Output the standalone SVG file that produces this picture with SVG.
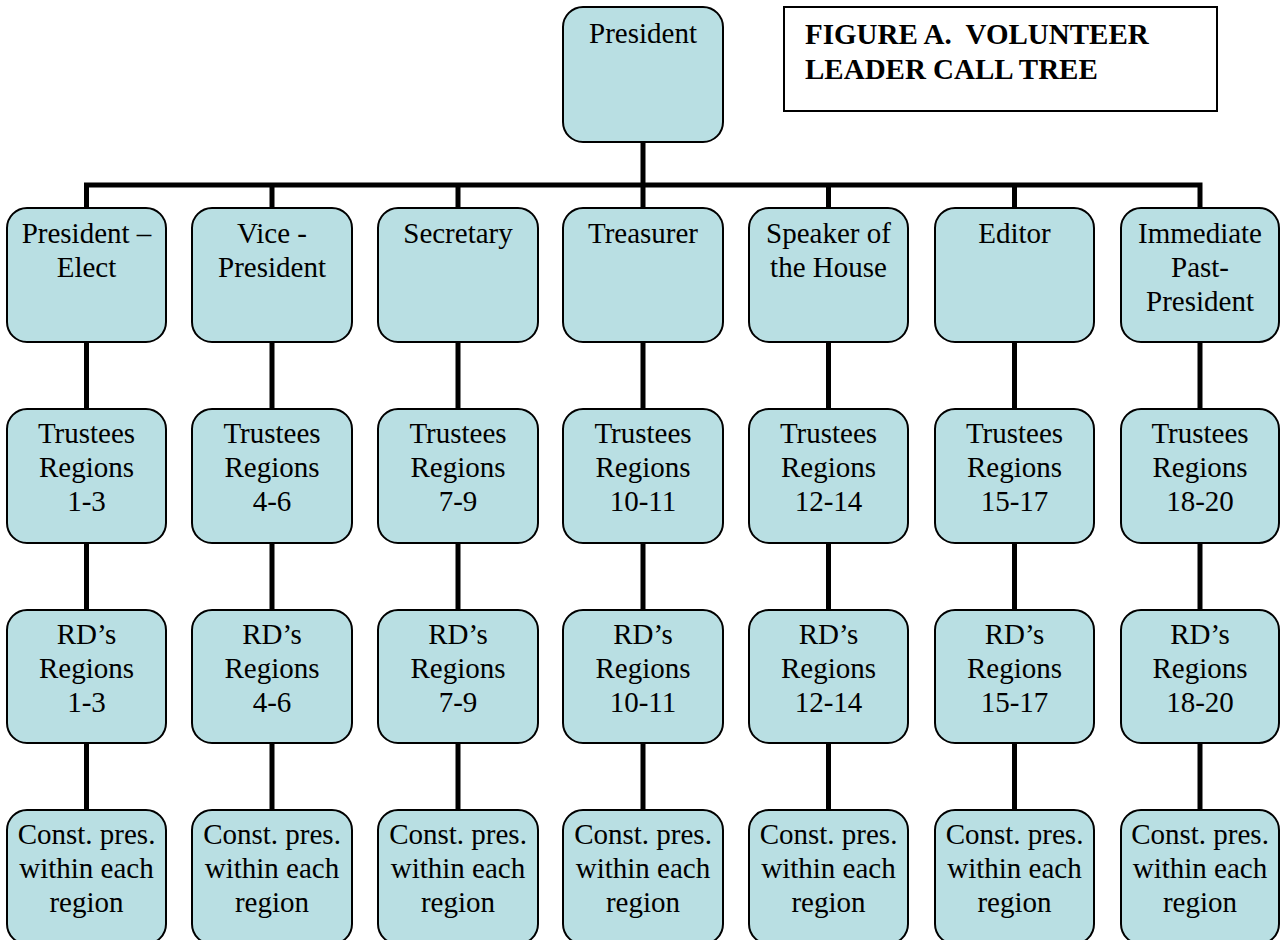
<svg xmlns="http://www.w3.org/2000/svg" width="1285" height="940" viewBox="0 0 1285 940">
<style>
.box{fill:#B9DFE3;stroke:#000;stroke-width:2}
.t{font-family:"Liberation Serif","Times New Roman",serif;font-size:29px;fill:#000;text-anchor:middle}
.title{font-family:"Liberation Serif","Times New Roman",serif;font-size:29px;font-weight:bold;fill:#000;white-space:pre}
.c{fill:none;stroke:#000;stroke-width:5;stroke-linejoin:miter}
</style>
<rect width="1285" height="940" fill="#fff"/>
<g id="connectors">
<path class="c" d="M643,142 V185"/>
<path class="c" d="M86.5,208 V185 H1200 V208"/>
<path class="c" d="M272,185 V208 M458,185 V208 M643,185 V208 M828.5,185 V208 M1014.5,185 V208"/>
<path class="c" d="M86.5,343 V409 M272,343 V409 M458,343 V409 M643,343 V409 M828.5,343 V409 M1014.5,343 V409 M1200,343 V409"/>
<path class="c" d="M86.5,543 V610 M272,543 V610 M458,543 V610 M643,543 V610 M828.5,543 V610 M1014.5,543 V610 M1200,543 V610"/>
<path class="c" d="M86.5,743 V810 M272,743 V810 M458,743 V810 M643,743 V810 M828.5,743 V810 M1014.5,743 V810 M1200,743 V810"/>
</g>
<g id="title">
<rect x="784" y="7" width="433" height="104" fill="#fff" stroke="#000" stroke-width="2"/>
<text class="title" x="805" y="44" xml:space="preserve">FIGURE A.  VOLUNTEER</text>
<text class="title" x="805" y="79">LEADER CALL TREE</text>
</g>
<g id="president"><rect class="box" x="563" y="7" width="160" height="135" rx="20"/><text class="t" x="643" y="43">President</text></g>

<g id="president-elect"><rect class="box" x="7" y="208" width="159" height="134" rx="20"/><text class="t" x="86.5" y="243">President –</text><text class="t" x="86.5" y="277">Elect</text></g>
<g id="vice-president"><rect class="box" x="192" y="208" width="160" height="134" rx="20"/><text class="t" x="272" y="243">Vice -</text><text class="t" x="272" y="277">President</text></g>
<g id="secretary"><rect class="box" x="378" y="208" width="160" height="134" rx="20"/><text class="t" x="458" y="243">Secretary</text></g>
<g id="treasurer"><rect class="box" x="563" y="208" width="160" height="134" rx="20"/><text class="t" x="643" y="243">Treasurer</text></g>
<g id="speaker"><rect class="box" x="749" y="208" width="159" height="134" rx="20"/><text class="t" x="828.5" y="243">Speaker of</text><text class="t" x="828.5" y="277">the House</text></g>
<g id="editor"><rect class="box" x="935" y="208" width="159" height="134" rx="20"/><text class="t" x="1014.5" y="243">Editor</text></g>
<g id="past-president"><rect class="box" x="1121" y="208" width="158" height="134" rx="20"/><text class="t" x="1200" y="243">Immediate</text><text class="t" x="1200" y="277">Past-</text><text class="t" x="1200" y="311">President</text></g>

<g id="trustees-1"><rect class="box" x="7" y="409" width="159" height="134" rx="20"/><text class="t" x="86.5" y="443">Trustees</text><text class="t" x="86.5" y="477">Regions</text><text class="t" x="86.5" y="511">1-3</text></g>
<g id="trustees-2"><rect class="box" x="192" y="409" width="160" height="134" rx="20"/><text class="t" x="272" y="443">Trustees</text><text class="t" x="272" y="477">Regions</text><text class="t" x="272" y="511">4-6</text></g>
<g id="trustees-3"><rect class="box" x="378" y="409" width="160" height="134" rx="20"/><text class="t" x="458" y="443">Trustees</text><text class="t" x="458" y="477">Regions</text><text class="t" x="458" y="511">7-9</text></g>
<g id="trustees-4"><rect class="box" x="563" y="409" width="160" height="134" rx="20"/><text class="t" x="643" y="443">Trustees</text><text class="t" x="643" y="477">Regions</text><text class="t" x="643" y="511">10-11</text></g>
<g id="trustees-5"><rect class="box" x="749" y="409" width="159" height="134" rx="20"/><text class="t" x="828.5" y="443">Trustees</text><text class="t" x="828.5" y="477">Regions</text><text class="t" x="828.5" y="511">12-14</text></g>
<g id="trustees-6"><rect class="box" x="935" y="409" width="159" height="134" rx="20"/><text class="t" x="1014.5" y="443">Trustees</text><text class="t" x="1014.5" y="477">Regions</text><text class="t" x="1014.5" y="511">15-17</text></g>
<g id="trustees-7"><rect class="box" x="1121" y="409" width="158" height="134" rx="20"/><text class="t" x="1200" y="443">Trustees</text><text class="t" x="1200" y="477">Regions</text><text class="t" x="1200" y="511">18-20</text></g>

<g id="rd-1"><rect class="box" x="7" y="610" width="159" height="133" rx="20"/><text class="t" x="86.5" y="644">RD’s</text><text class="t" x="86.5" y="678">Regions</text><text class="t" x="86.5" y="712">1-3</text></g>
<g id="rd-2"><rect class="box" x="192" y="610" width="160" height="133" rx="20"/><text class="t" x="272" y="644">RD’s</text><text class="t" x="272" y="678">Regions</text><text class="t" x="272" y="712">4-6</text></g>
<g id="rd-3"><rect class="box" x="378" y="610" width="160" height="133" rx="20"/><text class="t" x="458" y="644">RD’s</text><text class="t" x="458" y="678">Regions</text><text class="t" x="458" y="712">7-9</text></g>
<g id="rd-4"><rect class="box" x="563" y="610" width="160" height="133" rx="20"/><text class="t" x="643" y="644">RD’s</text><text class="t" x="643" y="678">Regions</text><text class="t" x="643" y="712">10-11</text></g>
<g id="rd-5"><rect class="box" x="749" y="610" width="159" height="133" rx="20"/><text class="t" x="828.5" y="644">RD’s</text><text class="t" x="828.5" y="678">Regions</text><text class="t" x="828.5" y="712">12-14</text></g>
<g id="rd-6"><rect class="box" x="935" y="610" width="159" height="133" rx="20"/><text class="t" x="1014.5" y="644">RD’s</text><text class="t" x="1014.5" y="678">Regions</text><text class="t" x="1014.5" y="712">15-17</text></g>
<g id="rd-7"><rect class="box" x="1121" y="610" width="158" height="133" rx="20"/><text class="t" x="1200" y="644">RD’s</text><text class="t" x="1200" y="678">Regions</text><text class="t" x="1200" y="712">18-20</text></g>

<g id="const-1"><rect class="box" x="7" y="810" width="159" height="134" rx="20"/><text class="t" x="86.5" y="844">Const. pres.</text><text class="t" x="86.5" y="878">within each</text><text class="t" x="86.5" y="912">region</text></g>
<g id="const-2"><rect class="box" x="192" y="810" width="160" height="134" rx="20"/><text class="t" x="272" y="844">Const. pres.</text><text class="t" x="272" y="878">within each</text><text class="t" x="272" y="912">region</text></g>
<g id="const-3"><rect class="box" x="378" y="810" width="160" height="134" rx="20"/><text class="t" x="458" y="844">Const. pres.</text><text class="t" x="458" y="878">within each</text><text class="t" x="458" y="912">region</text></g>
<g id="const-4"><rect class="box" x="563" y="810" width="160" height="134" rx="20"/><text class="t" x="643" y="844">Const. pres.</text><text class="t" x="643" y="878">within each</text><text class="t" x="643" y="912">region</text></g>
<g id="const-5"><rect class="box" x="749" y="810" width="159" height="134" rx="20"/><text class="t" x="828.5" y="844">Const. pres.</text><text class="t" x="828.5" y="878">within each</text><text class="t" x="828.5" y="912">region</text></g>
<g id="const-6"><rect class="box" x="935" y="810" width="159" height="134" rx="20"/><text class="t" x="1014.5" y="844">Const. pres.</text><text class="t" x="1014.5" y="878">within each</text><text class="t" x="1014.5" y="912">region</text></g>
<g id="const-7"><rect class="box" x="1121" y="810" width="158" height="134" rx="20"/><text class="t" x="1200" y="844">Const. pres.</text><text class="t" x="1200" y="878">within each</text><text class="t" x="1200" y="912">region</text></g>
</svg>
